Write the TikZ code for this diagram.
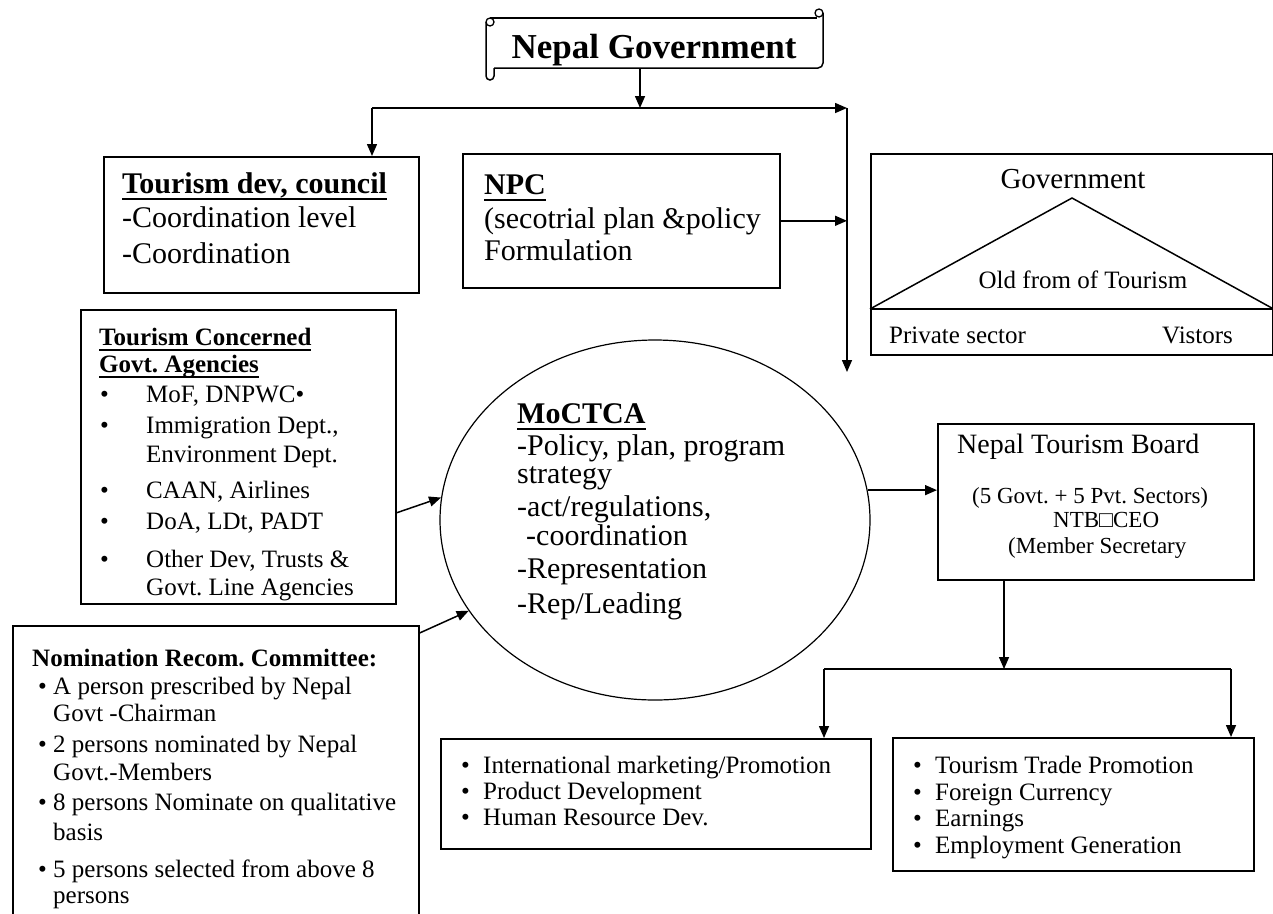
\documentclass[tikz,border=0pt]{standalone}
\usepackage{fontspec}
\setmainfont{Liberation Serif}
\usetikzlibrary{arrows.meta,shapes.geometric,calc}
\newcommand\myul[2][6.5pt]{\setbox0\hbox{#2}\rlap{\raisebox{-#1}{\rule{\wd0}{2pt}}}\box0}
\frenchspacing
\begin{document}
\frenchspacing
\begin{tikzpicture}[x=1pt,y=-1pt,
  box/.style={draw,line width=1.6pt,anchor=north west,inner sep=0},
  conn/.style={line width=1.5pt},
  arr/.style={line width=1.5pt,-{Triangle[length=12pt,width=10pt]}},
  tl/.style={anchor=base west,inner sep=0},
  tc/.style={anchor=base,inner sep=0},
  fA/.style={font=\fontsize{35pt}{42pt}\selectfont\bfseries},
  fB/.style={font=\fontsize{30pt}{36pt}\selectfont},
  fBb/.style={font=\fontsize{30pt}{36pt}\selectfont\bfseries},
  fN/.style={font=\fontsize{28pt}{34pt}\selectfont},
  fC/.style={font=\fontsize{25pt}{30pt}\selectfont},
  fCb/.style={font=\fontsize{25pt}{30pt}\selectfont\bfseries},
  fD/.style={font=\fontsize{25pt}{30pt}\selectfont},
  fE/.style={font=\fontsize{23pt}{28pt}\selectfont},
  fF/.style={font=\fontsize{25pt}{30pt}\selectfont}
]
\useasboundingbox (0,0) rectangle (1273,913);
\clip (0,0) rectangle (1273,913);

% ---- title scroll
\draw[line width=1.5pt] (490,18) -- (817,18);
\draw[line width=1.5pt,rounded corners=5pt] (823,13) -- (823,68) -- (494,68);
\draw[line width=1.3pt] (819,13) circle[radius=4];
\draw[line width=1.5pt,rounded corners=4pt] (486,22) -- (486,80) -- (494,80) -- (494,68);
\draw[line width=1.3pt] (490,22) circle[radius=4];
\node[tc,fA] (ng) at (654,58) {Nepal Government};

% ---- boxes
\node[box,minimum width=315pt,minimum height=136pt] (tdc) at (103,156) {};
\node[box,minimum width=317pt,minimum height=134pt] (npc) at (462,153) {};
\node[box,minimum width=402pt,minimum height=201pt] (gov) at (870,153) {};
\node[box,minimum width=315pt,minimum height=294pt] (tca) at (80,309) {};
\node[box,minimum width=406pt,minimum height=400pt] (nom) at (12,625) {};
\node[draw,line width=1.2pt,ellipse,minimum width=430pt,minimum height=360pt,inner sep=0] (moc) at (655,520) {};
\node[box,minimum width=316pt,minimum height=156pt] (ntb) at (937,423) {};
\node[box,minimum width=430pt,minimum height=110pt] (bl) at (440,738) {};
\node[box,minimum width=361pt,minimum height=133pt] (br) at (892,737) {};

% ---- government triangle
\draw[line width=1.5pt] (gov.west |- 0,309) -- (1072,198) -- (gov.east |- 0,309);
\draw[line width=1.5pt] (gov.west |- 0,309) -- (gov.east |- 0,309);

% ---- connectors
\coordinate (ngb) at (640,68);
\coordinate (busL) at (372,108);
\coordinate (busM) at (640,108);
\coordinate (busR) at (847,108);
\coordinate (vEnd) at (847,372);
\draw[arr] (ngb) -- (busM);
\draw[arr] (busL) -- (busR);
\draw[arr] (busL) -- (busL |- tdc.north);
\draw[arr] (busR) -- (vEnd);
\draw[arr] (npc.east) -- (npc.east -| busR);
\draw[arr] ([yshift=-56pt]tca.east) -- (moc.174);
\draw[arr] ([yshift=-8pt]nom.north east) -- (moc.206);
\draw[arr] (moc.8.3) -- (moc.8.3 -| ntb.west);
\coordinate (split) at (1004,669);
\coordinate (sl) at (824,669);
\coordinate (sr) at (1231,669);
\draw[arr] (1004,579) -- (split);
\draw[conn] (sl) -- (sr);
\draw[arr] (sl) -- (sl |- bl.north);
\draw[arr] (sr) -- (sr |- br.north);

% ---- Tourism dev council
\node[tl,fBb] (tdc1) at (122,193) {\myul{Tourism dev, council}};
\node[tl,fB] (tdc2) at (122,227) {-Coordination level};
\node[tl,fB] (tdc3) at (122,263) {-Coordination};

% ---- NPC
\node[tl,fBb] (npc1) at (484,194) {\myul{NPC}};
\node[tl,fB] (npc2) at (484,228) {(secotrial plan \&policy};
\node[tl,fB] (npc3) at (484,260) {Formulation};

% ---- Government
\node[tc,font=\fontsize{29pt}{34pt}\selectfont] (gov1) at (1073,188) {Government};
\node[tc,fC] (gov2) at (1083,288) {Old from of Tourism};
\node[tl,fC] (gov3) at (889,343) {Private sector};
\node[tl,fC] (gov4) at (1162,343) {Vistors};

% ---- Tourism Concerned Govt Agencies
\node[tl,fCb] (tca1) at (99,345) {\myul[5.5pt]{Tourism Concerned}};
\node[tl,fCb] (tca2) at (99,372) {\myul[5.5pt]{Govt. Agencies}};
\node[tl,fC] (tcb1) at (100,402) {•};
\node[tl,fC] (tcx1) at (146,402) {MoF, DNPWC•};
\node[tl,fC] (tcb2) at (100,433) {•};
\node[tl,fC] (tcx2) at (146,433) {Immigration Dept.,};
\node[tl,fC] (tcx3) at (146,462) {Environment Dept.};
\node[tl,fC] (tcb4) at (100,498) {•};
\node[tl,fC] (tcx4) at (146,498) {CAAN, Airlines};
\node[tl,fC] (tcb5) at (100,529) {•};
\node[tl,fC] (tcx5) at (146,529) {DoA, LDt, PADT};
\node[tl,fC] (tcb6) at (100,567) {•};
\node[tl,fC] (tcx6) at (146,567) {Other Dev, Trusts \&};
\node[tl,fC] (tcx7) at (146,595) {Govt. Line Agencies};

% ---- MoCTCA
\node[tl,fBb] (m1) at (517,423) {\myul{MoCTCA}};
\node[tl,fB] (m2) at (517,455) {-Policy, plan, program};
\node[tl,fB] (m3) at (517,483) {strategy};
\node[tl,fB] (m4) at (517,516) {-act/regulations,};
\node[tl,fB] (m5) at (526,545) {-coordination};
\node[tl,fB] (m6) at (517,578) {-Representation};
\node[tl,fB] (m7) at (517,613) {-Rep/Leading};

% ---- Nepal Tourism Board
\node[tl,fN] (n1) at (957,453) {Nepal Tourism Board};
\node[tl,fE] (n2) at (972,503) {(5 Govt. + 5 Pvt. Sectors)};
\node[tl,fE] (n3) at (1053,527) {NTB□CEO};
\node[tl,fE] (n4) at (1008,553) {(Member Secretary};

% ---- Nomination
\node[tl,fCb] (nm0) at (32,666) {Nomination Recom. Committee:};
\node[tl,fD] (nb1) at (38,694) {•};
\node[tl,fD] (nx1) at (53,694) {A person prescribed by Nepal};
\node[tl,fD] (nx2) at (53,721) {Govt -Chairman};
\node[tl,fD] (nb3) at (38,752) {•};
\node[tl,fD] (nx3) at (53,752) {2 persons nominated by Nepal};
\node[tl,fD] (nx4) at (53,780) {Govt.-Members};
\node[tl,fD] (nb5) at (38,810) {•};
\node[tl,fD] (nx5) at (53,810) {8 persons Nominate on qualitative};
\node[tl,fD] (nx6) at (53,840) {basis};
\node[tl,fD] (nb7) at (38,877) {•};
\node[tl,fD] (nx7) at (53,877) {5 persons selected from above 8};
\node[tl,fD] (nx8) at (53,903) {persons};

% ---- bottom left
\node[tl,fF] (lb1) at (461,773) {•};
\node[tl,fF] (lx1) at (483,773) {International marketing/Promotion};
\node[tl,fF] (lb2) at (461,799) {•};
\node[tl,fF] (lx2) at (483,799) {Product Development};
\node[tl,fF] (lb3) at (461,825) {•};
\node[tl,fF] (lx3) at (483,825) {Human Resource Dev.};

% ---- bottom right
\node[tl,fF] (rb1) at (913,773) {•};
\node[tl,fF] (rx1) at (935,773) {Tourism Trade Promotion};
\node[tl,fF] (rb2) at (913,800) {•};
\node[tl,fF] (rx2) at (935,800) {Foreign Currency};
\node[tl,fF] (rb3) at (913,826) {•};
\node[tl,fF] (rx3) at (935,826) {Earnings};
\node[tl,fF] (rb4) at (913,853) {•};
\node[tl,fF] (rx4) at (935,853) {Employment Generation};
\end{tikzpicture}
\end{document}
